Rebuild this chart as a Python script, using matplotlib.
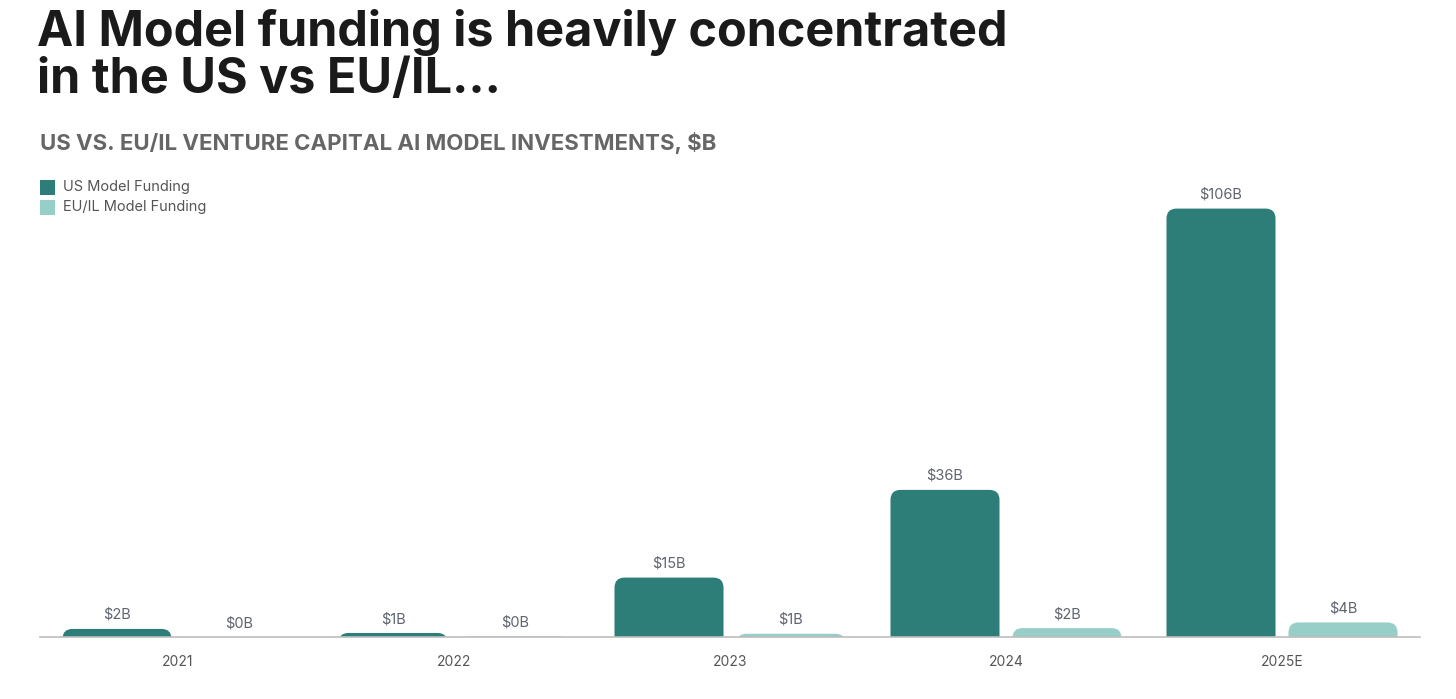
import matplotlib
matplotlib.use("Agg")
import matplotlib.pyplot as plt
from matplotlib.patches import FancyBboxPatch, Rectangle

# data ($B)
years = ["2021", "2022", "2023", "2024", "2025E"]
us_funding = [2.0, 1.0, 14.7, 36.4, 106.0]
eu_funding = [0.0, 0.15, 0.8, 2.2, 3.6]
series_names = ["US Model Funding", "EU/IL Model Funding"]

us_color = "#2D7E79"
eu_color = "#98CEC8"
text_grey = "#5f6470"

plt.rcParams["font.family"] = ["Inter", "DejaVu Sans"]

fig = plt.figure(figsize=(14.56, 6.99), dpi=100)
fig.patch.set_facecolor("white")
ax = fig.add_axes([40 / 1456, 62 / 699, 1380 / 1456, 447 / 699])

ax.set_xlim(-0.5, len(years) - 0.5)
ax.set_ylim(0, 110.6)

width = 0.395
offset = 0.221
# corner radius ~10px -> convert to data units in x and y
rx = 0.036
ry = 2.5

for i, (u, e) in enumerate(zip(us_funding, eu_funding)):
    for val, xc, col in [(u, i - offset, us_color), (e, i + offset, eu_color)]:
        if val > 0:
            # start below the baseline so only the top corners show rounded
            p = FancyBboxPatch((xc - width / 2, -2 * ry), width, val + 2 * ry,
                               boxstyle="round,pad=0,rounding_size=%f" % rx,
                               mutation_aspect=ry / rx,
                               facecolor=col, edgecolor="none", clip_on=True)
            ax.add_patch(p)
        ax.annotate("$%dB" % round(val), (xc, val), xytext=(0, 5),
                    textcoords="offset points", ha="center", va="bottom",
                    fontsize=10.5, color=text_grey)

ax.set_xticks(range(len(years)))
ax.set_xticklabels(years, fontsize=10, color="#555555")
ax.tick_params(axis="x", length=0, pad=13)
ax.set_yticks([])
for s in ["top", "right", "left"]:
    ax.spines[s].set_visible(False)
ax.spines["bottom"].set_color("#bdbdbd")
ax.spines["bottom"].set_linewidth(1.2)

# legend
for k, (name, col) in enumerate(zip(series_names, [us_color, eu_color])):
    y = 1 - (187 + 20 * k) / 699
    fig.patches.append(Rectangle((40 / 1456, y - 7.5 / 699), 15 / 1456, 15 / 699,
                                 transform=fig.transFigure, facecolor=col,
                                 edgecolor="none"))
    fig.text(63 / 1456, y, name, fontsize=10.5, color="#555555", va="center")

fig.text(37 / 1456, 1 - 32 / 699, "AI Model funding is heavily concentrated",
         fontsize=35, fontweight="bold", color="#1a1a1a", va="center")
fig.text(37 / 1456, 1 - 80 / 699, "in the US vs EU/IL...",
         fontsize=35, fontweight="bold", color="#1a1a1a", va="center")
fig.text(40 / 1456, 1 - 143 / 699,
         "US VS. EU/IL VENTURE CAPITAL AI MODEL INVESTMENTS, $B",
         fontsize=16, fontweight="bold", color="#666666", va="center")

fig.savefig("out.png", dpi=100, facecolor="white")
